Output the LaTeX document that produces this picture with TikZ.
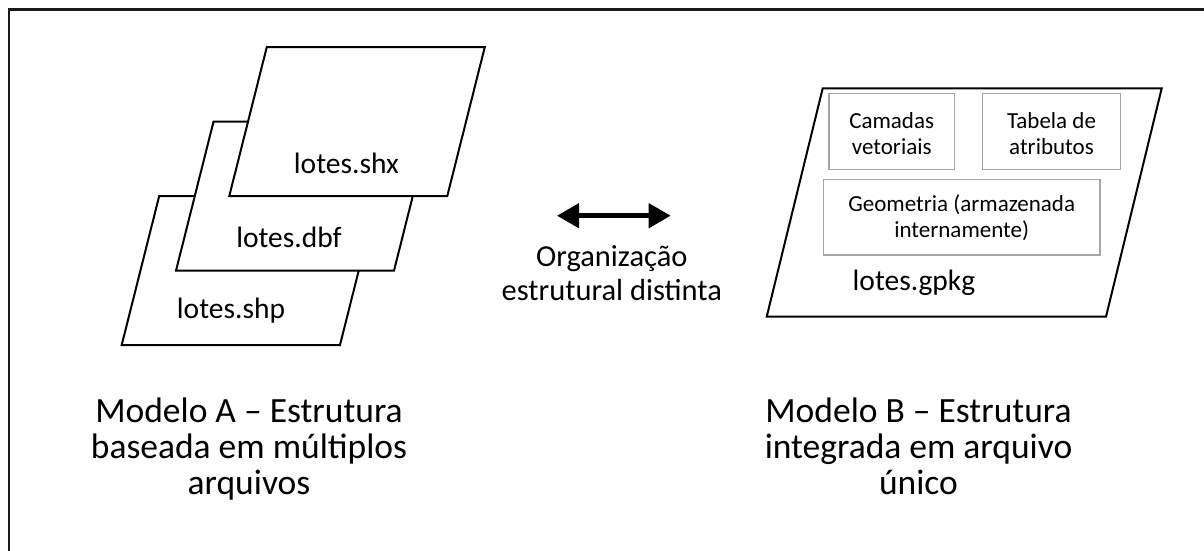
\documentclass[tikz,border=0pt]{standalone}
\usepackage{fontspec}
\setmainfont{Carlito}
\usetikzlibrary{arrows.meta}
\definecolor{boxgray}{HTML}{A6A6A6}
\definecolor{framegray}{HTML}{1A1A1A}
\begin{document}
\begin{tikzpicture}[x=1pt,y=-1pt,
  sheet/.style={draw=black,line width=2pt,fill=white,line join=miter},
  inbox/.style={draw=boxgray,line width=1.5pt,inner sep=0pt,minimum height=76pt},
  lbl/.style={anchor=base,inner sep=0pt,font=\fontsize{29.5}{35}\selectfont},
  small/.style={anchor=base,inner sep=0pt,font=\fontsize{23}{27}\selectfont},
  mid/.style={anchor=base,inner sep=0pt,font=\fontsize{30.5}{36}\selectfont},
  big/.style={anchor=base,inner sep=0pt,font=\fontsize{35.5}{43}\selectfont},
  dblarrow/.style={line width=4.5pt,{Triangle[length=22pt,width=24pt]}-{Triangle[length=22pt,width=24pt]}}
]
\useasboundingbox (0,0) rectangle (1204,550);
\draw[framegray,line width=2.5pt] (9,9.5) rectangle (1220,570);

% Model A: stacked sheets
\draw[sheet] (121.7,345) -- (340,345) -- (377.5,196) -- (159.2,196) -- cycle;
\draw[sheet] (176,270.7) -- (394,270.7) -- (431.5,121.7) -- (213.5,121.7) -- cycle;
\draw[sheet] (229.3,196) -- (447.3,196) -- (484.8,47) -- (266.8,47) -- cycle;
\node[lbl] (shx) at (346.5,173) {lotes.shx};
\node[lbl] (dbf) at (289,247.5) {lotes.dbf};
\node[lbl] (shp) at (231,318.5) {lotes.shp};

% Model B: single file
\draw[sheet] (766.7,316.7) -- (1106,316.7) -- (1161.7,88.3) -- (822.7,88.3) -- cycle;
\node[inbox,minimum width=125.3pt] (cam) at (891.7,131.3) {};
\node[inbox,minimum width=138.4pt] (tab) at (1051.5,131.3) {};
\node[inbox,minimum width=276.7pt,minimum height=75.7pt] (geo) at (961.7,217.2) {};
\node[small] (cam1) at (891.7,128) {Camadas};
\node[small] (cam2) at (891.7,154.5) {vetoriais};
\node[small] (tab1) at (1051.5,128) {Tabela de};
\node[small] (tab2) at (1051.5,154.5) {atributos};
\node[small] (geo1) at (961.7,211) {Geometria (armazenada};
\node[small] (geo2) at (961.7,237.5) {internamente)};
\node[lbl] (gpkg) at (914,290) {lotes.gpkg};

% Middle arrow and caption
\coordinate (al) at (557,215.7);
\coordinate (ar) at (670.7,215.7);
\draw[dblarrow] (al) -- (ar);
\node[mid] (org1) at (611.8,266) {Organização};
\node[mid] (org2) at (611.8,300) {estrutural distinta};

% Captions
\node[big] (a1) at (249,422) {Modelo A – Estrutura};
\node[big] (a2) at (249,458) {baseada em múltiplos};
\node[big] (a3) at (249,494) {arquivos};
\node[big] (b1) at (918.5,422) {Modelo B – Estrutura};
\node[big] (b2) at (918.5,458) {integrada em arquivo};
\node[big] (b3) at (918.5,494) {único};
\end{tikzpicture}
\end{document}
